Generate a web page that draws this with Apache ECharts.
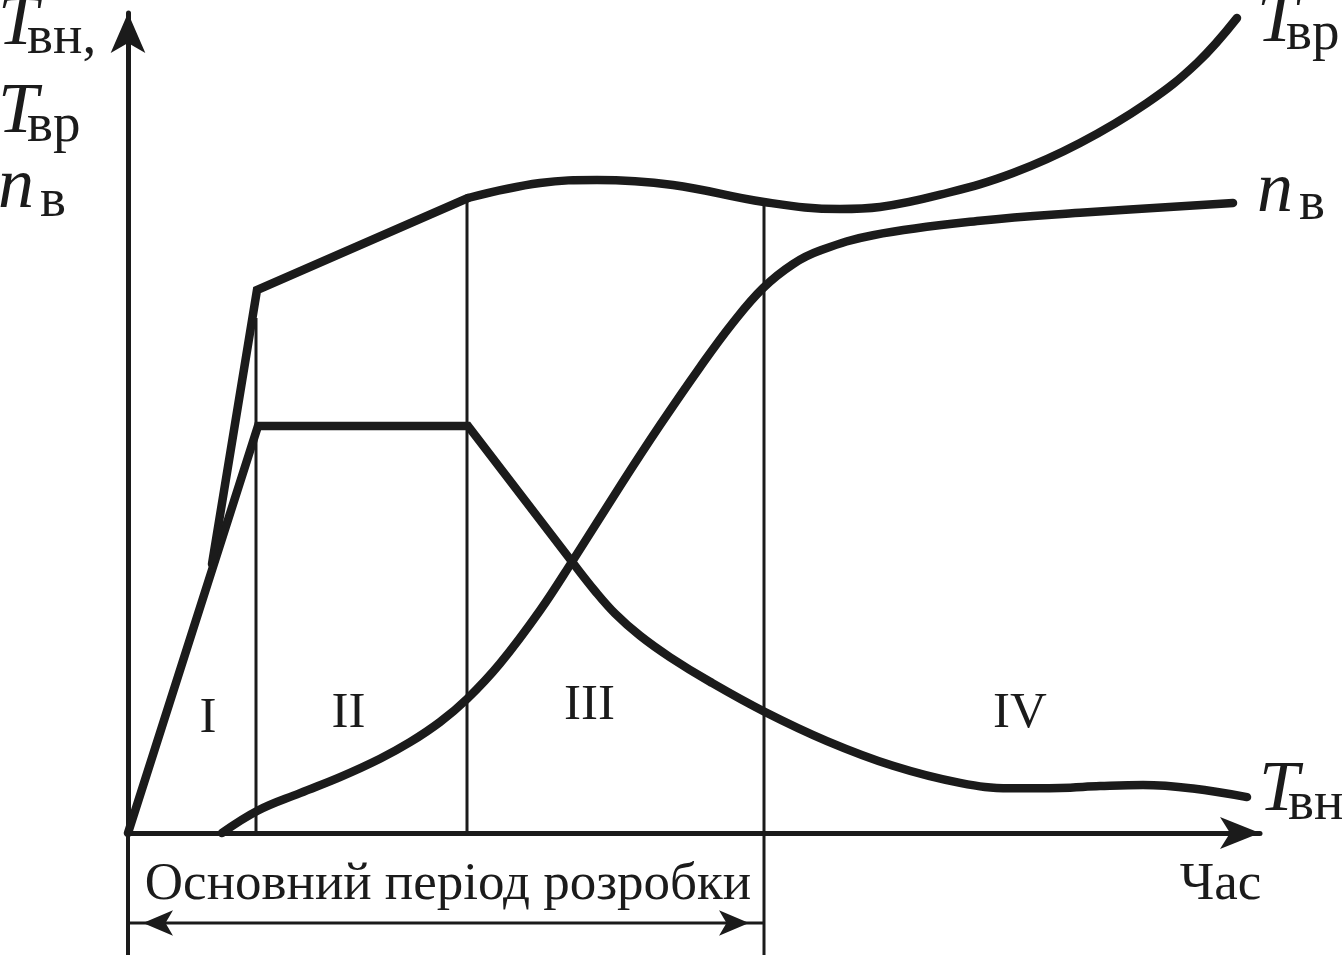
<!DOCTYPE html>
<html>
<head>
<meta charset="utf-8">
<script src="https://cdn.jsdelivr.net/npm/echarts@6/dist/echarts.min.js"></script>
<style>
html,body{margin:0;padding:0;background:#ffffff;}
#chart{width:1342px;height:957px;}
</style>
</head>
<body>
<div id="chart"></div>
<script>
// ---------- data (x: time, y: value, arbitrary schematic units) ----------
const tvnRiseX  = [0, 13.0, 34.0, 44.5];
const tvnRiseY  = [0, 40.7, 40.7, 27.0];
const tvnFallX  = [44.5, 46.7, 48.7, 51.2, 54.2, 58.2, 63.6, 69.9, 76.5, 83.2, 88.2, 93.2, 97.2, 101.5, 106.5, 111.9];
const tvnFallY  = [27.0, 24.2, 21.95, 19.73, 17.58, 15.12, 12.15, 9.19, 6.72, 5.01, 4.48, 4.51, 4.69, 4.8, 4.45, 3.59];

const tvrRiseX  = [8.4, 12.9, 34.0];
const tvrRiseY  = [26.9, 54.3, 63.5];
const tvrCurveX = [34.0, 41.2, 46.9, 54.5, 63.6, 71.2, 75.2, 81.9, 88.5, 95.2, 101.9, 106.9, 110.9];
const tvrCurveY = [63.5, 65.0, 65.3, 64.8, 63.1, 62.4, 62.6, 64.0, 66.0, 69.0, 73.0, 77.0, 81.5];

const nvX = [9.4, 13.0, 17.2, 21.2, 25.2, 28.2, 31.2, 33.9, 37.2, 41.2, 44.5, 49.2, 53.2, 57.2, 60.5, 63.5, 66.5, 69.2, 74.5, 85.2, 95.2, 110.5];
const nvY = [0, 2.25, 3.99, 5.59, 7.43, 9.08, 11.1, 13.4, 16.95, 22.25, 27.28, 34.68, 40.78, 46.58, 51.04, 54.49, 56.89, 58.24, 59.78, 61.22, 62.02, 63.01];

const phaseX     = [12.8, 33.9, 63.6];
const phaseTopY  = [51.5, 63.5, 63.1];
const phaseNames = ['I', 'II', 'III', 'IV'];
const periodText = 'Основний період розробки';
const timeText   = 'Час';

// ---------- layout / style ----------
const INK = '#1b1b1b';
const SERIF = '"Liberation Serif", "Times New Roman", serif';
const X_MAX = 113.2, Y_MAX = 82;
const phaseBottomY = [0, 0, -12.2];
const axisTailY = -12.2;
const arrowRowY = -9.0;
const phaseLabelX = [8.0, 22.05, 46.15, 89.2];
const phaseLabelY = [11.45, 11.95, 12.75, 11.95];
const bottomTextX = [32.0, 109.25];
const bottomTextY = [-5.25, -5.2];

const zip = (xs, ys) => xs.map((x, i) => [x, ys[i]]);

const richE = {
  m:  { fontFamily: SERIF, fontStyle: 'italic', fontSize: 72, color: INK, width: 29, verticalAlign: 'middle' },
  mn: { fontFamily: SERIF, fontStyle: 'italic', fontSize: 72, color: INK, width: 42, verticalAlign: 'middle' },
  s:  { fontFamily: SERIF, fontSize: 55, color: INK, padding: [26, 0, 0, 0], verticalAlign: 'middle' }
};
const richZ = {
  m:  { fontFamily: SERIF, fontStyle: 'italic', fontSize: 72, fill: INK, width: 29, verticalAlign: 'middle' },
  mn: { fontFamily: SERIF, fontStyle: 'italic', fontSize: 72, fill: INK, width: 42, verticalAlign: 'middle' },
  s:  { fontFamily: SERIF, fontSize: 55, fill: INK, padding: [26, 0, 0, 0], verticalAlign: 'middle' }
};

const thick = { color: INK, width: 8.5, cap: 'round', join: 'miter' };

const chart = echarts.init(document.getElementById('chart'), null, { renderer: 'canvas' });

const phaseSeries = phaseX.map((x, i) => ({
  type: 'line', silent: true, clip: false, symbol: 'none', z: 1,
  lineStyle: { color: INK, width: 3 },
  data: [[x, phaseBottomY[i]], [x, phaseTopY[i]]]
}));

const textLabel = (size) => ({
  show: true, position: 'inside', formatter: '{b}', fontFamily: SERIF, fontSize: size,
  color: INK, opacity: 1, textBorderWidth: 0
});

const option = {
  animation: false,
  backgroundColor: '#ffffff',
  grid: { left: 128, right: 82, top: 13, bottom: 124, containLabel: false },
  xAxis: {
    type: 'value', min: 0, max: X_MAX,
    axisLine: { show: true, onZero: false, symbol: ['none', 'arrow'], symbolSize: [24, 40],
                lineStyle: { color: INK, width: 5 } },
    axisTick: { show: false }, axisLabel: { show: false }, splitLine: { show: false }
  },
  yAxis: {
    type: 'value', min: 0, max: Y_MAX,
    axisLine: { show: true, onZero: false, symbol: ['none', 'arrow'], symbolSize: [26, 40],
                lineStyle: { color: INK, width: 5 } },
    axisTick: { show: false }, axisLabel: { show: false }, splitLine: { show: false }
  },
  graphic: [
    { type: 'text', x: -2, y: 25.4, silent: true,
      style: { text: '{m|T}{s|вн,}', rich: richZ, verticalAlign: 'middle', align: 'left', fill: INK } },
    { type: 'text', x: -2, y: 113.4, silent: true,
      style: { text: '{m|T}{s|вр}', rich: richZ, verticalAlign: 'middle', align: 'left', fill: INK } },
    { type: 'text', x: -2, y: 188.4, silent: true,
      style: { text: '{mn|n}{s|в}', rich: richZ, verticalAlign: 'middle', align: 'left', fill: INK } }
  ],
  series: [
    ...phaseSeries,
    { // y-axis continuation below the time axis
      type: 'line', silent: true, clip: false, symbol: 'none', z: 1,
      lineStyle: { color: INK, width: 4 },
      data: [[0, 0], [0, axisTailY]]
    },
    { // double arrow of the main development period
      type: 'line', silent: true, clip: false, z: 1,
      lineStyle: { color: INK, width: 3 },
      itemStyle: { color: INK, borderWidth: 0, opacity: 1 },
      symbolSize: [19, 30],
      data: [
        { value: [0, arrowRowY], symbol: 'arrow', symbolRotate: 90, symbolOffset: [15, 0] },
        { value: [phaseX[2], arrowRowY], symbol: 'arrow', symbolRotate: -90, symbolOffset: [-15, 0] }
      ]
    },
    { name: 'Tвн', type: 'line', silent: true, clip: false, symbol: 'none', z: 3,
      lineStyle: thick, data: zip(tvnRiseX, tvnRiseY) },
    { name: 'Tвн', type: 'line', silent: true, clip: false, symbol: 'none', z: 3, smooth: 0.4,
      lineStyle: thick, data: zip(tvnFallX, tvnFallY),
      endLabel: { show: true, formatter: '{m|T}{s|вн}', rich: richE, distance: 12, offset: [0, -6] } },
    { name: 'Tвр', type: 'line', silent: true, clip: false, symbol: 'none', z: 3,
      lineStyle: thick, data: zip(tvrRiseX, tvrRiseY) },
    { name: 'Tвр', type: 'line', silent: true, clip: false, symbol: 'none', z: 3, smooth: 0.4,
      lineStyle: thick, data: zip(tvrCurveX, tvrCurveY),
      endLabel: { show: true, formatter: '{m|T}{s|вр}', rich: richE, distance: 20, offset: [0, 4] } },
    { name: 'nв', type: 'line', silent: true, clip: false, symbol: 'none', z: 3, smooth: 0.4,
      lineStyle: thick, data: zip(nvX, nvY),
      endLabel: { show: true, formatter: '{mn|n}{s|в}', rich: richE, distance: 24, offset: [0, -11] } },
    { type: 'scatter', silent: true, clip: false, symbolSize: 0, z: 4,
      itemStyle: { opacity: 1 },
      data: phaseNames.map((n, i) => ({ name: n, value: [phaseLabelX[i], phaseLabelY[i]] })),
      label: textLabel(51) },
    { type: 'scatter', silent: true, clip: false, symbolSize: 0, z: 4,
      itemStyle: { opacity: 1 },
      data: [periodText, timeText].map((n, i) => ({ name: n, value: [bottomTextX[i], bottomTextY[i]] })),
      label: textLabel(53) }
  ]
};
chart.setOption(option);
</script>
</body>
</html>
